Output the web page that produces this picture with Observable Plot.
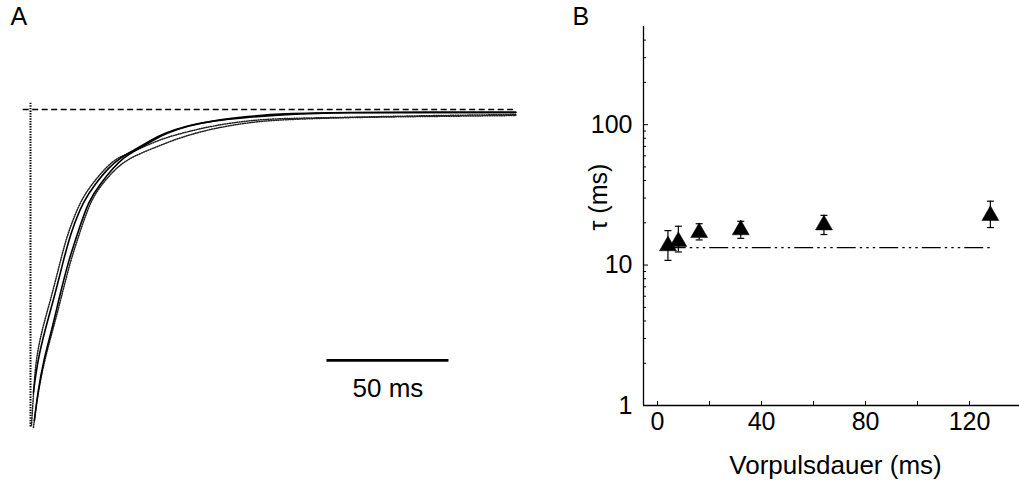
<!DOCTYPE html>
<html>
<head>
<meta charset="utf-8">
<script src="https://cdn.jsdelivr.net/npm/d3@7"></script>
<script src="https://cdn.jsdelivr.net/npm/@observablehq/plot@0.6"></script>
<style>
  body { margin: 0; background: #fff; }
  #wrap { position: relative; width: 1019px; height: 494px; background: #fff; }
  #panelA, #panelB { position: absolute; top: 0; }
  #panelA { left: 0; }
  #panelB { left: 520px; }
</style>
</head>
<body>
<div id="wrap"><div id="panelA"></div><div id="panelB"></div></div>
<script>
// ---------- Panel A: normalized current traces (time in ms, amplitude normalized) ----------
const fitFast = [[1.2,-0.896],[2.9,-0.794],[6.2,-0.690],[9.4,-0.604],[13.5,-0.478],[16.4,-0.392],[21.7,-0.288],[26.7,-0.234],[32.0,-0.184],[36.9,-0.152],[42.2,-0.130],[49.2,-0.098],[54.5,-0.076],[64.4,-0.051],[75.0,-0.035],[89.0,-0.022],[102.5,-0.013],[130.0,-0.009],[164.0,-0.009],[198.9,-0.009]];
const fitSlow = [[1.6,-0.984],[2.9,-0.899],[5.3,-0.794],[9.0,-0.690],[11.5,-0.604],[15.6,-0.478],[19.3,-0.392],[23.8,-0.288],[28.7,-0.234],[34.0,-0.184],[38.1,-0.152],[43.0,-0.130],[50.0,-0.098],[55.4,-0.076],[64.8,-0.051],[75.0,-0.035],[89.0,-0.025],[102.5,-0.016],[130.0,-0.009],[164.0,-0.009],[198.9,-0.009]];
const traceFast = [[0.4,-1.000],[1.2,-0.905],[2.1,-0.794],[4.9,-0.690],[8.2,-0.604],[12.3,-0.478],[15.2,-0.392],[20.5,-0.288],[25.4,-0.234],[30.8,-0.184],[35.7,-0.152],[42.2,-0.133],[49.2,-0.108],[55.4,-0.089],[64.4,-0.070],[75.0,-0.051],[89.0,-0.035],[102.5,-0.028],[130.0,-0.025],[164.0,-0.019],[198.9,-0.016]];
const traceSlow = [[1.2,-1.006],[2.1,-0.953],[3.3,-0.889],[5.7,-0.794],[9.4,-0.690],[12.3,-0.604],[16.4,-0.478],[20.1,-0.392],[24.6,-0.288],[29.5,-0.234],[34.9,-0.187],[39.8,-0.158],[45.9,-0.136],[52.1,-0.117],[58.2,-0.098],[65.6,-0.079],[75.0,-0.060],[89.0,-0.041],[102.5,-0.032],[130.0,-0.025],[164.0,-0.022],[198.9,-0.019]];
const baselineSpan = [-3, 199];        // ms, dashed zero-current line
const stimulusSpan = [0.02, -1.006];   // amplitude extent of the stimulus marker at t = 0
const scaleBarLength = 50;             // ms
const scaleBarStart = 121.5;           // ms
const scaleBarLevel = -0.794;
const scaleBarLabelLevel = -0.883;

// ---------- Panel B: time constant vs prepulse duration ----------
const prepulse = [4, 8, 16, 32, 64, 128];           // ms
const tauMean  = [13.7, 14.7, 17.0, 17.8, 19.3, 22.5];
const tauLow   = [10.8, 12.4, 15.1, 15.5, 16.5, 18.5];
const tauHigh  = [17.6, 18.9, 19.7, 20.5, 22.6, 28.5];
const tauRefX  = [4, 128];
const tauRefY  = [13.3, 13.3];
const xTicks = [0, 20, 40, 60, 80, 100, 120];
const xTickLabels = [0, 40, 80, 120];
const yMajorTicks = [1, 10, 100];
const yMinorTicks = [2,3,4,5,6,7,8,9,20,30,40,50,60,70,80,90,200,300,400];
const xDomain = [-5.4, 139.2];
const yDomain = [1, 500];

const FONT = '"Liberation Sans", Arial, Helvetica, sans-serif';
const rows = (arr) => arr.map(([t, i]) => ({t, i}));

const plotA = Plot.plot({
  width: 520, height: 494,
  marginLeft: 30, marginRight: 2, marginTop: 77.4, marginBottom: 53.2,
  x: {domain: [0, 200], axis: null},
  y: {domain: [-1.05, 0.1], axis: null},
  style: {fontFamily: FONT, fontSize: "25px", background: "white", color: "black"},
  marks: [
    Plot.ruleX([0], {y1: stimulusSpan[0], y2: stimulusSpan[1], stroke: "black", strokeWidth: 2, strokeDasharray: "1.4,1.2"}),
    Plot.ruleY([0], {x1: baselineSpan[0], x2: baselineSpan[1], stroke: "black", strokeWidth: 1.3, strokeDasharray: "6,3.5"}),
    Plot.line(rows(traceFast), {x: "t", y: "i", curve: "basis", stroke: "#222", strokeWidth: 1.5, strokeDasharray: "1,1.4"}),
    Plot.line(rows(traceSlow), {x: "t", y: "i", curve: "basis", stroke: "#222", strokeWidth: 1.5, strokeDasharray: "1,1.4"}),
    Plot.line(rows(fitFast), {x: "t", y: "i", curve: "basis", stroke: "black", strokeWidth: 1.6}),
    Plot.line(rows(fitSlow), {x: "t", y: "i", curve: "basis", stroke: "black", strokeWidth: 1.6}),
    Plot.ruleY([scaleBarLevel], {x1: scaleBarStart, x2: scaleBarStart + scaleBarLength, stroke: "black", strokeWidth: 2.6}),
    Plot.text([`${scaleBarLength} ms`], {x: scaleBarStart + scaleBarLength / 2, y: scaleBarLabelLevel, fontSize: 26, fill: "black"}),
    Plot.text(["A"], {frameAnchor: "top-left", dx: -20, dy: -70.4, textAnchor: "start", lineAnchor: "top", fontSize: 25, fill: "black"})
  ]
});
document.getElementById("panelA").appendChild(plotA);

const tauData = prepulse.map((x, k) => ({x, tau: tauMean[k], lo: tauLow[k], hi: tauHigh[k]}));
const refLine = tauRefX.map((x, k) => ({x, y: tauRefY[k]}));
const capSymbol = {draw(context, size) { const w = Math.sqrt(size / Math.PI); context.moveTo(-w, 0); context.lineTo(w, 0); }};

const plotB = Plot.plot({
  width: 499, height: 494,
  marginLeft: 123, marginRight: 0, marginTop: 26, marginBottom: 89,
  x: {domain: xDomain},
  y: {type: "log", domain: yDomain},
  style: {fontFamily: FONT, fontSize: "25px", background: "white", color: "black"},
  marks: [
    Plot.ruleX([xDomain[0]], {y1: yDomain[0], y2: yDomain[1], stroke: "black", strokeWidth: 1.3}),
    Plot.ruleY([yDomain[0]], {x1: xDomain[0], x2: xDomain[1], stroke: "black", strokeWidth: 1.3}),
    Plot.axisX({ticks: xTicks, tickSize: -4, tickPadding: 11, tickFormat: d => xTickLabels.includes(d) ? String(d) : "", fontSize: 25, label: null}),
    Plot.axisY({ticks: yMajorTicks, tickSize: -5, tickPadding: 16, tickFormat: d => String(d), fontSize: 25, label: null}),
    Plot.axisY({ticks: yMinorTicks, tickSize: -3, tickFormat: () => "", label: null}),
    Plot.line(refLine, {x: "x", y: "y", stroke: "black", strokeWidth: 1.2, strokeDasharray: "18,5,1.5,5,1.5,5,1.5,5", strokeDashoffset: 0.7}),
    Plot.ruleX(tauData, {x: "x", y1: "lo", y2: "hi", stroke: "black", strokeWidth: 1.2}),
    Plot.dot(tauData, {x: "x", y: "lo", symbol: capSymbol, r: 3.5, stroke: "black", strokeWidth: 1.2}),
    Plot.dot(tauData, {x: "x", y: "hi", symbol: capSymbol, r: 3.5, stroke: "black", strokeWidth: 1.2}),
    Plot.dot(tauData, {x: "x", y: "tau", symbol: "triangle", r: 6.3, fill: "black", stroke: "black", strokeWidth: 0.5}),
    Plot.text(["τ (ms)"], {frameAnchor: "left", rotate: -90, dx: -45, dy: 14.5, fontSize: 25, fill: "black"}),
    Plot.text(["Vorpulsdauer (ms)"], {frameAnchor: "bottom", dx: 4, dy: 68, fontSize: 26, fill: "black"}),
    Plot.text(["B"], {frameAnchor: "top-left", dx: -71, dy: -19, textAnchor: "start", lineAnchor: "top", fontSize: 25, fill: "black"})
  ]
});
document.getElementById("panelB").appendChild(plotB);
</script>
</body>
</html>
